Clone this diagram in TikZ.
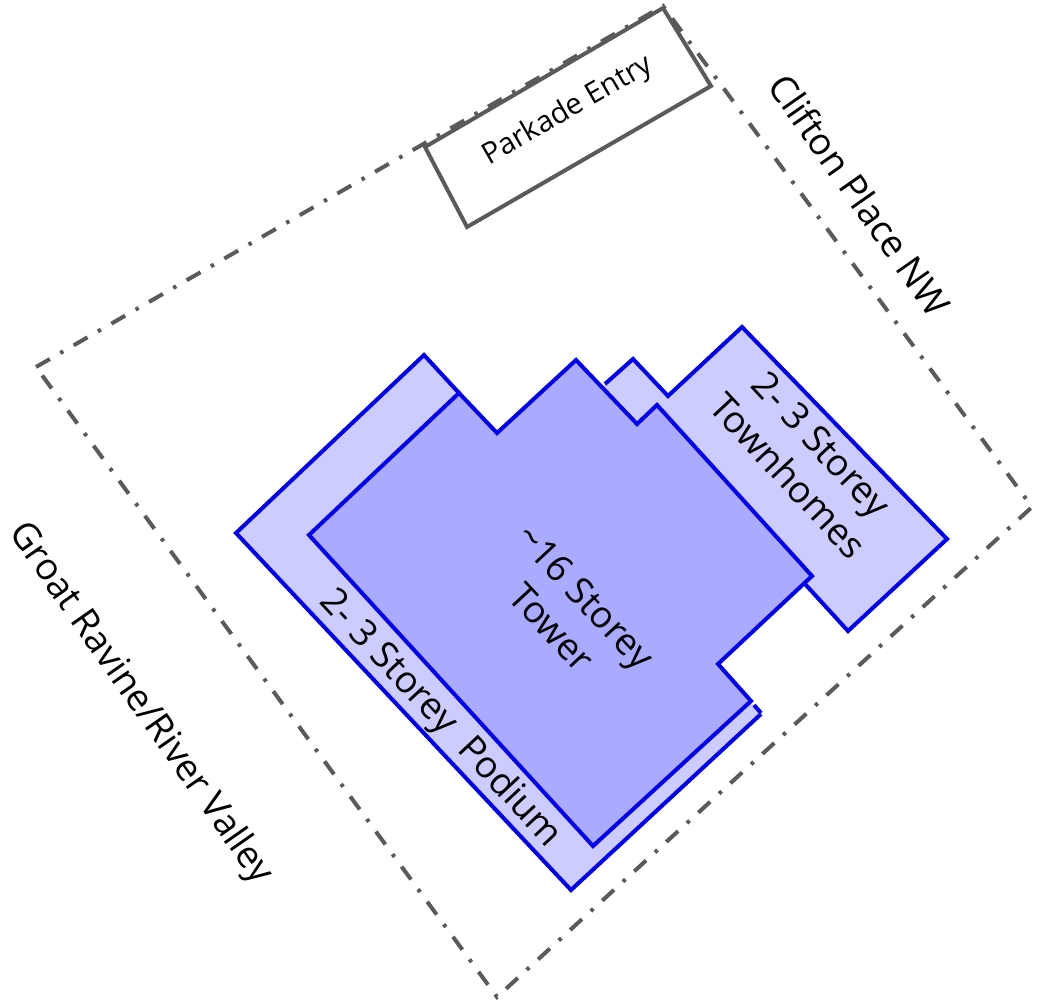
\documentclass[tikz,border=0pt]{standalone}
\usepackage{fontspec}
\setmainfont{Open Sans}
\definecolor{linegray}{RGB}{90,90,90}
\definecolor{lineblue}{RGB}{0,0,238}
\definecolor{podiumfill}{RGB}{204,204,255}
\definecolor{towerfill}{RGB}{170,170,255}

\begin{document}
\begin{tikzpicture}[x=0.75pt, y=-0.75pt]
	\tikzstyle{site}=[draw=linegray,line width=3pt,dash pattern=on 12pt off 9pt on 2.6pt off 9pt]
	\tikzstyle{parkade}=[draw=linegray,line width=3pt,line join=miter]
	\tikzstyle{low}=[fill=podiumfill,draw=none]
	\tikzstyle{edgeline}=[draw=lineblue,line width=3pt]
	\tikzstyle{big}=[font=\fontsize{27.8}{34.5}\selectfont,align=center,text=black]
	\useasboundingbox (0,0) rectangle (1037,1000);
	% site boundary
	\draw[site] (36,367) -- (663,6) -- (1032,507) -- (497,997) -- cycle;
	% parkade
	\draw[parkade] (425,147) -- (663,8) -- (711,86) -- (467,227) -- cycle;
	% podium
	\fill[low] (424,355) -- (236,533) -- (571,890) -- (761,714) -- (740,690) -- (460,393) -- cycle;
	\draw[edgeline] (459,393) -- (424,355) -- (236,533) -- (571,890) -- (761,714) (754,705) -- (761,713);
	% townhomes
	\fill[low] (605,384) -- (633,359) -- (668,396) -- (742,327) -- (947,539) -- (848,631) -- (806,585) -- (700,520) -- (600,392) -- cycle;
	\draw[edgeline] (605,384) -- (633,359) -- (668,396) -- (742,327) -- (947,539) -- (848,631) -- (805,584);
	% tower
	\draw[edgeline,fill=towerfill] (459,393) -- (497,433) -- (576,360) -- (637,424) -- (657,405) -- (812,576) -- (718,664) -- (751,701) -- (593,846) -- (309,535) -- cycle;
	% labels
	\node[font=\fontsize{22}{26}\selectfont,rotate=30] (P) at (568,111) {Parkade Entry};
	\node[big,rotate=-55] (C) at (860,195) {Clifton Place NW};
	\node[big,rotate=-55] (G) at (140,704) {Groat Ravine/River Valley};
	\node[big,rotate=-47] (S) at (440,719) {2- 3 Storey\ \ Podium};
	\node[big,rotate=-47] (T) at (569,612) {\textasciitilde16 Storey\\Tower};
	\node[big,rotate=-47] (H) at (805,460) {2- 3 Storey\\Townhomes};
\end{tikzpicture}
\end{document}
